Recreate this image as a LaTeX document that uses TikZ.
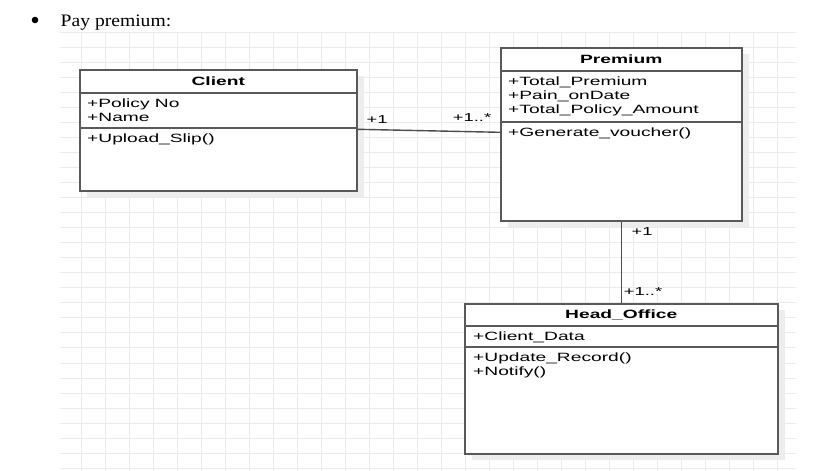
\documentclass[tikz,border=0pt]{standalone}
\usepackage{fontspec}
\newfontfamily\umlfont[FakeStretch=1.6]{Liberation Sans}
\newfontfamily\pagefont[FakeStretch=1.12]{Liberation Serif}
\usetikzlibrary{
calc,
positioning,
shadows,
}

\begin{document}
\begin{tikzpicture}[x=1pt, y=-1pt,
  gridline/.style={draw=black!8, line width=0.7pt},
  classbox/.style={draw=black!65, line width=1.5pt, fill=white, inner sep=0pt, anchor=north west,
    drop shadow={shadow xshift=7pt, shadow yshift=-6pt, fill=black!7, opacity=1}},
  divider/.style={draw=black!65, line width=1.5pt},
  classname/.style={font=\umlfont\bfseries\fontsize{12}{14}\selectfont, inner sep=0pt, text height=8.6pt, text depth=0pt},
  members/.style={font=\umlfont\fontsize{12}{14}\selectfont, inner sep=0pt, anchor=north west, align=left},
  assoc/.style={draw=black!70, line width=1.4pt},
  mult/.style={font=\umlfont\fontsize{11.5}{13}\selectfont, inner sep=0pt}]
			\useasboundingbox (0,0) rectangle (825,471);
			\fill[white] (0,0) rectangle (825,471);

			% background grid
			\foreach \gx in {0,...,29}
				\draw[gridline] (81+24*\gx,32) -- (81+24*\gx,471);
			\foreach \gy in {0,...,29}
				\draw[gridline] (60,32+15.04*\gy) -- (796,32+15.04*\gy);

			% heading
			\fill (35,20) circle (3.3);
			\node[anchor=base west, inner sep=0pt, font=\pagefont\fontsize{17.5}{20}\selectfont] (heading) at (60.5,26.7) {Pay premium:};

			% Client
			\node[classbox, minimum width=277pt, minimum height=121pt] (client) at (79,69) {};
			\draw[divider] ($(client.north west)+(0,24)$) -- ($(client.north east)+(0,24)$);
			\draw[divider] ($(client.north west)+(0,59)$) -- ($(client.north east)+(0,59)$);
			\node[classname] (client name) at ($(client.north)+(0,12)$) {Client};
			\node[members] (client attr) at ($(client.north west)+(8,30)$) {+Policy No\\+Name};
			\node[members] (client ops) at ($(client.north west)+(8,64.5)$) {+Upload\_Slip()};

			% Premium
			\node[classbox, minimum width=241pt, minimum height=173pt] (premium) at (500,47) {};
			\draw[divider] ($(premium.north west)+(0,24)$) -- ($(premium.north east)+(0,24)$);
			\draw[divider] ($(premium.north west)+(0,75)$) -- ($(premium.north east)+(0,75)$);
			\node[classname] (premium name) at ($(premium.north)+(0,12)$) {Premium};
			\node[members] (premium attr) at ($(premium.north west)+(8,30)$) {+Total\_Premium\\+Pain\_onDate\\+Total\_Policy\_Amount};
			\node[members] (premium ops) at ($(premium.north west)+(8,80.5)$) {+Generate\_voucher()};

			% Head_Office
			\node[classbox, minimum width=313pt, minimum height=150pt] (office) at (464,303) {};
			\draw[divider] ($(office.north west)+(0,23)$) -- ($(office.north east)+(0,23)$);
			\draw[divider] ($(office.north west)+(0,44)$) -- ($(office.north east)+(0,44)$);
			\node[classname] (office name) at ($(office.north)+(0,11.5)$) {Head\_Office};
			\node[members] (office attr) at ($(office.north west)+(9,29)$) {+Client\_Data};
			\node[members] (office ops) at ($(office.north west)+(9,50)$) {+Update\_Record()\\+Notify()};

			% associations
			\draw[assoc] ($(client.north east)+(0,60.3)$) -- ($(premium.north west)+(0,85.3)$);
			\draw[assoc] (premium.south) -- (office.north);
			\node[mult] (client mult) at (377,120) {+1};
			\node[mult] (premium mult) at (472,118) {+1..*};
			\node[mult] (premium mult low) at (642,232) {+1};
			\node[mult] (office mult) at (643,292) {+1..*};
		\end{tikzpicture}
\end{document}
